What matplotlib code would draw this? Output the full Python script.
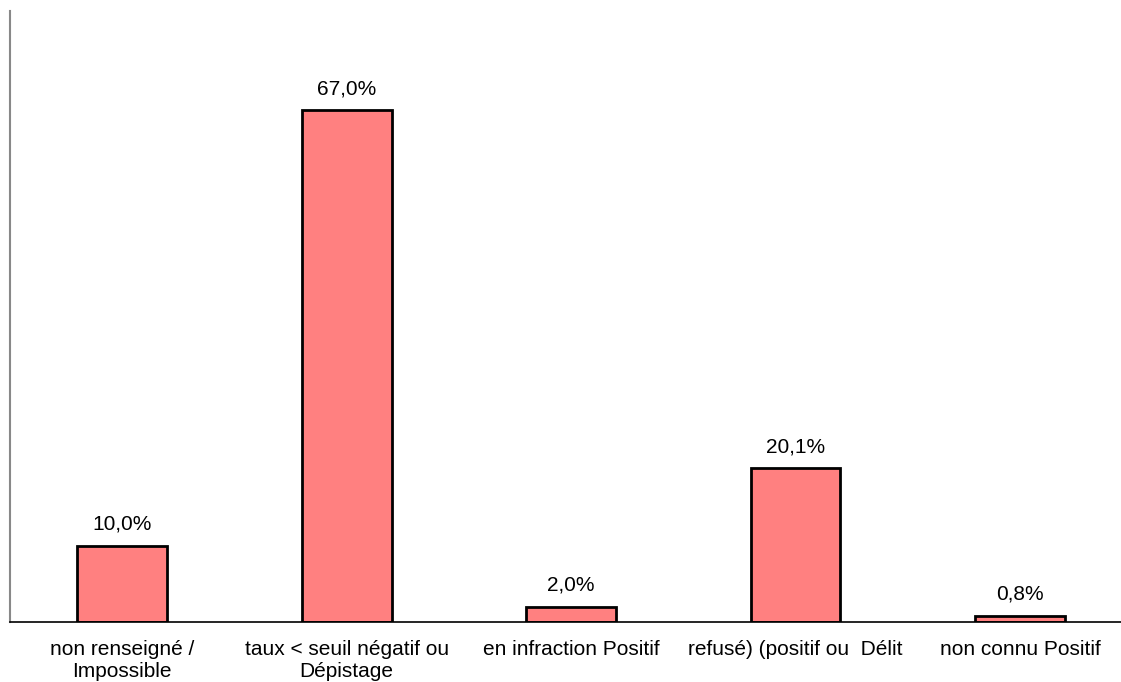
import numpy as np
import matplotlib.pyplot as plt

categories = ["non renseigné /\nImpossible", "taux < seuil négatif ou\nDépistage",
              "en infraction Positif", "refusé) (positif ou  Délit", "non connu Positif"]
values = [10.0, 67.0, 2.0, 20.1, 0.8]
labels = ["10,0%", "67,0%", "2,0%", "20,1%", "0,8%"]

plt.rcParams['font.family'] = ['Liberation Sans', 'DejaVu Sans']

fig = plt.figure(figsize=(11.21, 6.82), dpi=100)
ax = fig.add_axes([10/1121, 60/682, 1111/1121, 611/682])

x = np.arange(len(categories))
bars = ax.bar(x, values, width=0.4, color='#FF8080', edgecolor='black', linewidth=2)
for xi, v, t in zip(x, values, labels):
    ax.annotate(t, (xi, v), xytext=(0, 11.5), textcoords='offset points',
                ha='center', va='baseline', fontsize=15)

ax.set_xlim(-0.5, 4.45)
ax.set_ylim(0, 80)
ax.set_xticks(x)
ax.set_xticklabels(categories, fontsize=15, linespacing=1.2)
ax.tick_params(axis='x', length=0, pad=13)
ax.set_yticks([])
ax.spines['top'].set_visible(False)
ax.spines['right'].set_visible(False)
ax.spines['left'].set_color('#888888')
ax.spines['left'].set_linewidth(1.5)
ax.spines['bottom'].set_linewidth(1.2)

fig.savefig('out.png', dpi=100)
